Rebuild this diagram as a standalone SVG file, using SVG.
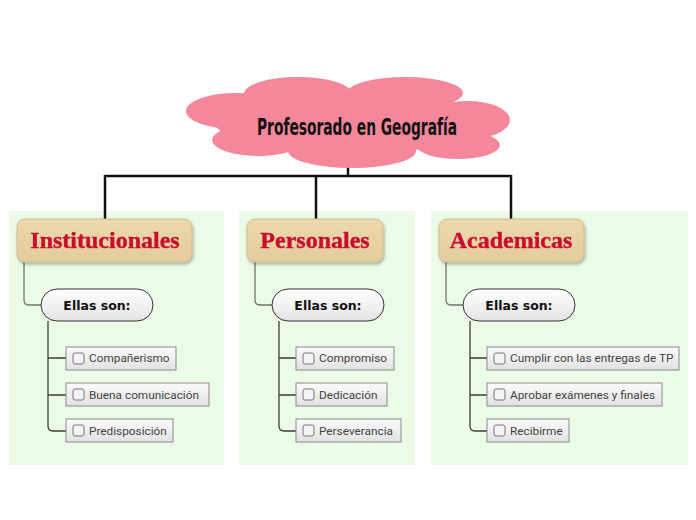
<svg xmlns="http://www.w3.org/2000/svg" width="696" height="520" viewBox="0 0 696 520">
<style>
.panel{fill:#ebfbe8}
.cat{fill:url(#gTan);stroke:#d2bc8e;stroke-width:1}
.catT{font-family:"Liberation Serif",serif;font-weight:bold;font-size:24px;fill:#c8102e;text-anchor:middle;stroke:#c8102e;stroke-width:0.4}
.ellas{fill:url(#gWhite);stroke:#333;stroke-width:1}
.ellasT{font-family:"DejaVu Sans",sans-serif;font-weight:bold;font-size:12.5px;fill:#111;text-anchor:middle}
.item{fill:url(#gItem);stroke:#8a8a8a;stroke-width:1}
.chk{fill:#f4f4f4;stroke:#777;stroke-width:1}
.itemT{font-family:Roboto,"Liberation Sans",sans-serif;font-size:11.8px;fill:#444}
.top{fill:none;stroke:#111;stroke-width:2.5}
.sub{fill:none;stroke:#6f756b;stroke-width:1.3}
.sub2{fill:none;stroke:#3a3f38;stroke-width:1.3}
.cloud{fill:#f4889a}
</style>
<defs>
<linearGradient id="gTan" x1="0" y1="0" x2="0" y2="1"><stop offset="0" stop-color="#ecd9ae"/><stop offset="1" stop-color="#e3cc9b"/></linearGradient>
<linearGradient id="gWhite" x1="0" y1="0" x2="0" y2="1"><stop offset="0" stop-color="#ffffff"/><stop offset="1" stop-color="#e4e4e4"/></linearGradient>
<linearGradient id="gItem" x1="0" y1="0" x2="0" y2="1"><stop offset="0" stop-color="#fbfbfb"/><stop offset="1" stop-color="#e2e2e2"/></linearGradient>
<filter id="sh" x="-10%" y="-10%" width="125%" height="140%"><feDropShadow dx="1" dy="2" stdDeviation="1.5" flood-color="#000" flood-opacity="0.3"/></filter>
</defs>

<g id="panels">
<rect class="panel" x="9" y="211" width="215" height="254"/>
<rect class="panel" x="239" y="211" width="176" height="254"/>
<rect class="panel" x="431" y="211" width="257" height="254"/>
</g>

<g id="connectors">
<path class="top" d="M348 166 V176 M105 176 H511 M105 175 V219 M316 175 V219 M511 175 V219"/>
<path class="sub" d="M24 262 V300 Q24 305 29 305 H41"/>
<path class="sub" d="M255 262 V300 Q255 305 260 305 H272"/>
<path class="sub" d="M446 262 V300 Q446 305 451 305 H463"/>
<path class="sub2" d="M48 321 V426 Q48 431 53 431 H66 M48 358 H66 M48 395 H66"/>
<path class="sub2" d="M279 321 V426 Q279 431 284 431 H296 M279 358 H296 M279 395 H296"/>
<path class="sub2" d="M470 321 V426 Q470 431 475 431 H487 M470 358 H487 M470 395 H487"/>
</g>

<g id="root">
<g class="cloud">
<ellipse cx="236" cy="111" rx="50" ry="18"/>
<ellipse cx="298" cy="94" rx="54" ry="17"/>
<ellipse cx="405" cy="93" rx="58" ry="16"/>
<ellipse cx="468" cy="120" rx="42" ry="19"/>
<ellipse cx="458" cy="145" rx="42" ry="14"/>
<ellipse cx="352" cy="151" rx="64" ry="17"/>
<ellipse cx="258" cy="140" rx="46" ry="16"/>
<ellipse cx="350" cy="122" rx="135" ry="32"/>
</g>
<text x="357" y="135" font-family="'DejaVu Sans Condensed','DejaVu Sans',sans-serif" font-weight="bold" font-size="23" fill="#111" text-anchor="middle" textLength="200" lengthAdjust="spacingAndGlyphs">Profesorado en Geografía</text>
</g>

<g id="cat1" filter="url(#sh)"><rect class="cat" x="17" y="219" width="175" height="43" rx="8"/><text class="catT" x="105" y="248">Institucionales</text></g>
<g id="cat2" filter="url(#sh)"><rect class="cat" x="247" y="219" width="136" height="43" rx="8"/><text class="catT" x="315" y="248">Personales</text></g>
<g id="cat3" filter="url(#sh)"><rect class="cat" x="439" y="219" width="145" height="43" rx="8"/><text class="catT" x="511" y="248">Academicas</text></g>

<g id="ellas1"><rect class="ellas" x="41" y="289" width="112" height="32" rx="16"/><text class="ellasT" x="97" y="310">Ellas son:</text></g>
<g id="ellas2"><rect class="ellas" x="272" y="289" width="112" height="32" rx="16"/><text class="ellasT" x="328" y="310">Ellas son:</text></g>
<g id="ellas3"><rect class="ellas" x="463" y="289" width="112" height="32" rx="16"/><text class="ellasT" x="519" y="310">Ellas son:</text></g>

<g id="i1a"><rect class="item" x="66" y="347" width="110" height="23"/><rect class="chk" x="73" y="353" width="11" height="11" rx="2"/><text class="itemT" x="89" y="362">Compañerismo</text></g>
<g id="i1b"><rect class="item" x="66" y="383" width="143" height="23"/><rect class="chk" x="73" y="389" width="11" height="11" rx="2"/><text class="itemT" x="89" y="399">Buena comunicación</text></g>
<g id="i1c"><rect class="item" x="66" y="419" width="107" height="23"/><rect class="chk" x="73" y="425" width="11" height="11" rx="2"/><text class="itemT" x="89" y="435">Predisposición</text></g>

<g id="i2a"><rect class="item" x="296" y="347" width="98" height="23"/><rect class="chk" x="303" y="353" width="11" height="11" rx="2"/><text class="itemT" x="319" y="362">Compromiso</text></g>
<g id="i2b"><rect class="item" x="296" y="383" width="91" height="23"/><rect class="chk" x="303" y="389" width="11" height="11" rx="2"/><text class="itemT" x="319" y="399">Dedicación</text></g>
<g id="i2c"><rect class="item" x="296" y="419" width="105" height="23"/><rect class="chk" x="303" y="425" width="11" height="11" rx="2"/><text class="itemT" x="319" y="435">Perseverancia</text></g>

<g id="i3a"><rect class="item" x="487" y="347" width="192" height="23"/><rect class="chk" x="494" y="353" width="11" height="11" rx="2"/><text class="itemT" x="510" y="362">Cumplir con las entregas de TP</text></g>
<g id="i3b"><rect class="item" x="487" y="383" width="175" height="23"/><rect class="chk" x="494" y="389" width="11" height="11" rx="2"/><text class="itemT" x="510" y="399">Aprobar exámenes y finales</text></g>
<g id="i3c"><rect class="item" x="487" y="419" width="82" height="23"/><rect class="chk" x="494" y="425" width="11" height="11" rx="2"/><text class="itemT" x="510" y="435">Recibirme</text></g>
</svg>
